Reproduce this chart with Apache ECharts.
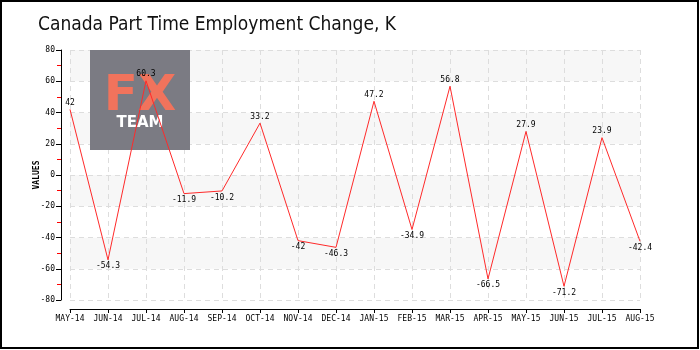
<!DOCTYPE html>
<html>
<head>
<meta charset="utf-8">
<script src="https://cdn.jsdelivr.net/npm/echarts@6/dist/echarts.min.js"></script>
<style>
  html, body { margin: 0; padding: 0; background: #fff; }
  #chart { width: 700px; height: 350px; }
</style>
</head>
<body>
<div id="chart"></div>
<script>
// Monthly change in Canadian part-time employment, thousands
const months = ['MAY-14','JUN-14','JUL-14','AUG-14','SEP-14','OCT-14','NOV-14','DEC-14',
                'JAN-15','FEB-15','MAR-15','APR-15','MAY-15','JUN-15','JUL-15','AUG-15'];
const changes = [42, -54.3, 60.3, -11.9, -10.2, 33.2, -42, -46.3, 47.2, -34.9, 56.8, -66.5, 27.9, -71.2, 23.9, -42.4];
const yTicks = { min: -80, max: 80, step: 20 };

const tickFont = '"DejaVu Sans Mono", monospace';

const chart = echarts.init(document.getElementById('chart'));
chart.setOption({
  animation: false,
  backgroundColor: '#fff',
  title: {
    text: 'Canada Part Time Employment Change, K',
    left: 33, top: 11,
    textStyle: { fontFamily: '"DejaVu Sans Condensed", "Liberation Sans Narrow", sans-serif', fontWeight: 'normal', fontSize: 19, color: '#111' }
  },
  grid: { left: 70, right: 60, top: 50, bottom: 50 },
  graphic: [
    { type: 'rect', z: 100, silent: true,
      shape: { x: 1, y: 1, width: 697, height: 347 },
      style: { fill: 'none', stroke: '#000', lineWidth: 2 } },
    { type: 'rect', z: 1, silent: true,
      shape: { x: 90, y: 50, width: 100, height: 100 },
      style: { fill: '#7b7b83' } },
    { type: 'text', z: 1, silent: true, x: 140, y: 97,
      style: { text: 'FX', fill: '#f1735c', font: 'bold 50px "DejaVu Sans", sans-serif', align: 'center', verticalAlign: 'middle' } },
    { type: 'text', z: 1, silent: true, x: 140, y: 123,
      style: { text: 'TEAM', fill: '#ffffff', font: 'bold 15px "DejaVu Sans", sans-serif', align: 'center', verticalAlign: 'middle' } }
  ],
  xAxis: {
    type: 'category',
    data: months,
    boundaryGap: false,
    offset: 9,
    axisLine: { onZero: false, lineStyle: { color: '#000', width: 1 } },
    axisTick: { show: true, length: 4, lineStyle: { color: '#000' } },
    axisLabel: { color: '#000', fontFamily: tickFont, fontSize: 8, margin: 6, interval: 0 },
    splitLine: { show: true, lineStyle: { color: '#dddddd', type: [5, 4] } }
  },
  yAxis: {
    type: 'value',
    min: yTicks.min, max: yTicks.max, interval: yTicks.step,
    offset: 9,
    name: 'VALUES',
    nameLocation: 'middle',
    nameGap: 20,
    nameMoveOverlap: false,
    nameTextStyle: { color: '#000', fontFamily: tickFont, fontSize: 8, fontWeight: 'bold' },
    axisLine: { show: true, onZero: false, lineStyle: { color: '#000', width: 1 } },
    axisTick: { show: true, length: 5, lineStyle: { color: '#000' } },
    minorTick: { show: true, splitNumber: 2, length: 4, lineStyle: { color: '#ff0000' } },
    axisLabel: { color: '#000', fontFamily: tickFont, fontSize: 8, margin: 6 },
    splitLine: { show: true, lineStyle: { color: '#dddddd', type: [5, 4] } },
    splitArea: { show: true, areaStyle: { color: ['#ffffff', '#f7f7f7'] } }
  },
  series: [{
    type: 'line',
    data: changes.map(v => ({ value: v, label: { position: v >= 0 ? 'top' : 'bottom' } })),
    symbol: 'circle',
    symbolSize: 1,
    showSymbol: true,
    itemStyle: { color: 'rgba(0,0,0,0)' },
    lineStyle: { color: '#ff2a2a', width: 1 },
    z: 3,
    label: { show: true, color: '#000', fontFamily: tickFont, fontSize: 8, distance: 2 }
  }]
});
</script>
</body>
</html>
